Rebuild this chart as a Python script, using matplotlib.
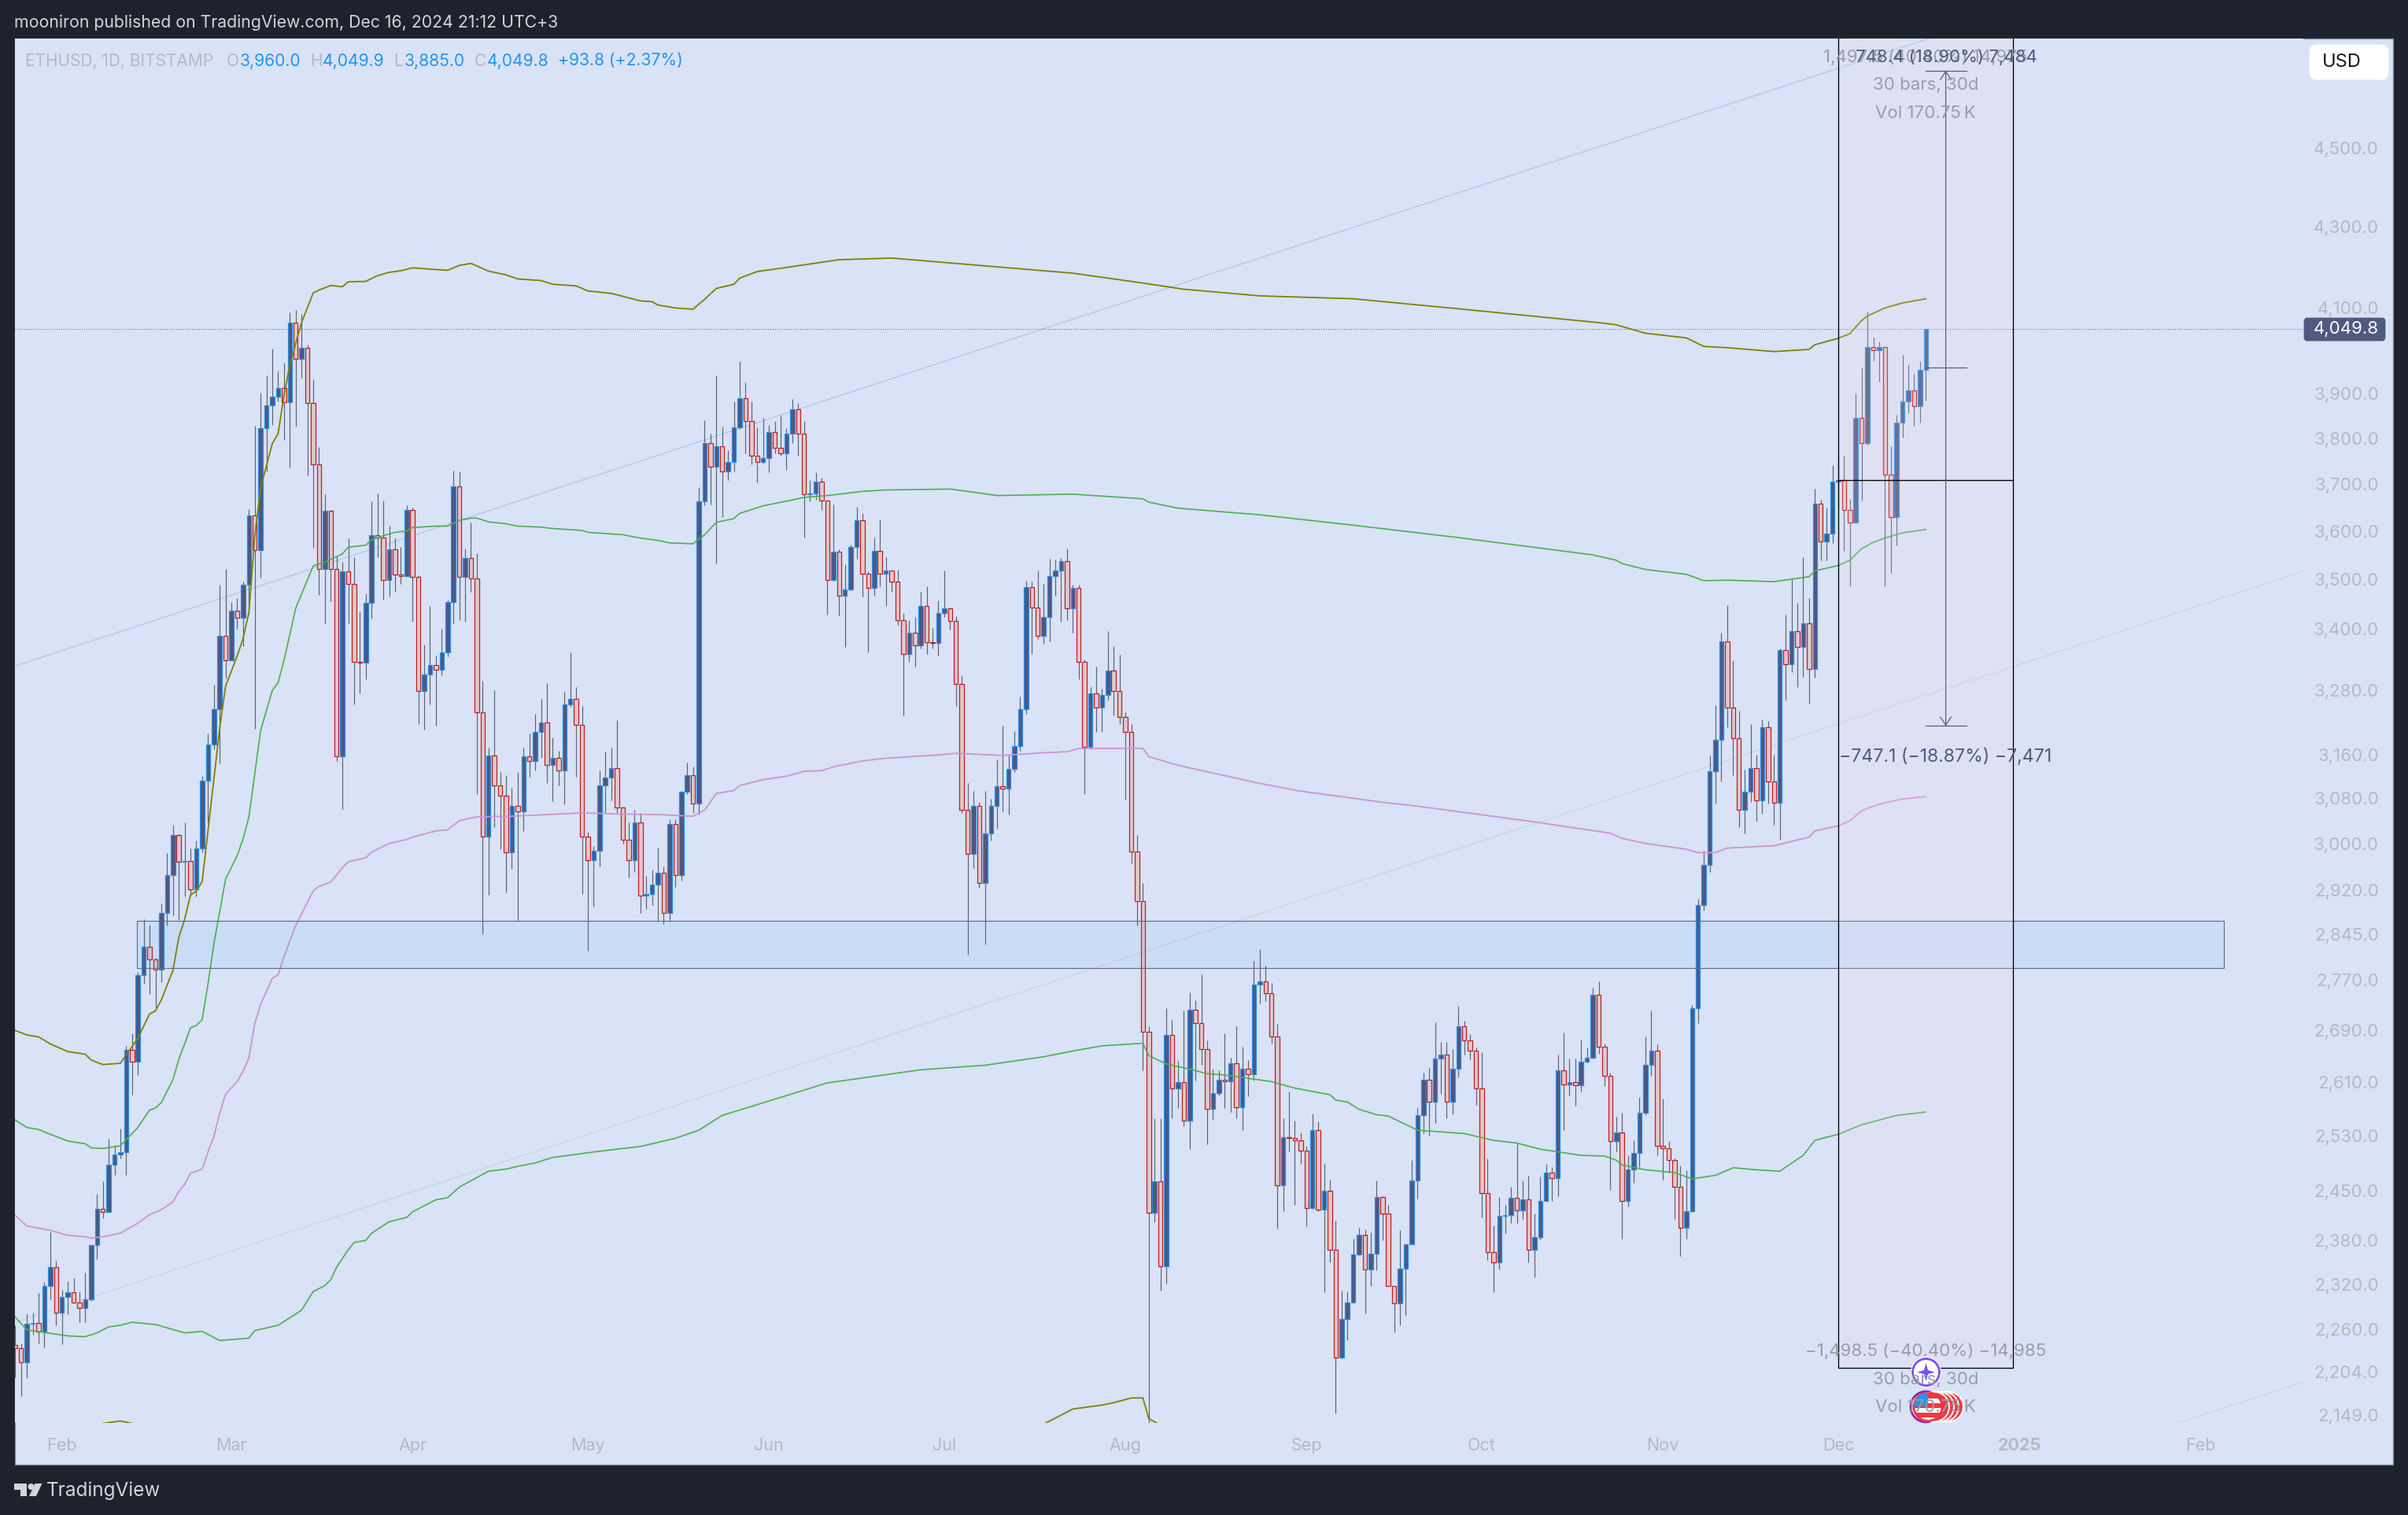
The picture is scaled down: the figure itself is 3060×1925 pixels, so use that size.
import matplotlib
matplotlib.use("Agg")
import matplotlib.pyplot as plt
from matplotlib.patches import Rectangle, Circle, Polygon, FancyBboxPatch
from matplotlib.ticker import NullLocator

plt.rcParams['font.family'] = ['Inter', 'DejaVu Sans']

# daily closes, highs, lows, first bar is Jan 24 2024, opens follow the previous close
first_open = 2239
closes = [2235,2217,2267,2268,2257,2317,2343,2282,2303,2309,
2295,2288,2299,2373,2424,2420,2487,2502,2506,2660,
2642,2778,2824,2804,2787,2881,2945,3015,2968,2969,
2921,2991,3112,3178,3245,3386,3339,3436,3422,3488,
3633,3560,3823,3874,3893,3913,3881,4065,3980,4006,
3879,3742,3521,3643,3521,3156,3516,3490,3335,3333,
3452,3591,3586,3498,3561,3510,3506,3645,3505,3279,
3311,3329,3320,3353,3454,3695,3505,3544,3502,3239,
3012,3158,3103,3085,2985,3066,3057,3157,3148,3201,
3220,3140,3154,3130,3253,3264,3215,3012,2971,2987,
3103,3117,3135,3063,3006,2971,3037,2910,2913,2929,
2949,2881,3034,2945,3092,3122,3070,3662,3790,3737,
3782,3727,3748,3824,3890,3839,3762,3747,3757,3813,
3779,3767,3811,3865,3811,3677,3680,3705,3665,3498,
3557,3467,3479,3567,3622,3511,3483,3559,3511,3517,
3495,3417,3350,3392,3368,3445,3373,3372,3431,3441,
3416,3292,3059,2982,3066,2931,3018,3066,3102,3098,
3134,3176,3245,3484,3443,3386,3424,3506,3518,3537,
3441,3483,3335,3174,3275,3247,3272,3319,3279,3230,
3201,2986,2901,2688,2419,2463,2344,2683,2600,2610,
2552,2723,2702,2661,2570,2593,2614,2611,2639,2572,
2631,2622,2763,2768,2749,2681,2458,2527,2526,2523,
2508,2425,2538,2423,2450,2367,2223,2273,2295,2360,
2388,2340,2362,2441,2417,2317,2294,2341,2375,2464,
2560,2614,2580,2646,2653,2580,2631,2696,2675,2659,
2601,2447,2364,2350,2414,2415,2440,2422,2438,2367,
2384,2435,2476,2468,2628,2607,2610,2605,2642,2647,
2747,2665,2620,2522,2534,2435,2480,2505,2564,2637,
2658,2515,2511,2494,2456,2398,2421,2725,2894,2963,
3129,3187,3376,3247,3190,3059,3092,3135,3076,3210,
3111,3072,3359,3331,3396,3364,3411,3322,3657,3578,
3594,3705,3708,3645,3618,3845,3790,4007,4000,4007,
3720,3630,3834,3882,3908,3871,3955,4049.8]
highs = [2265,2241,2281,2282,2308,2323,2392,2352,2312,2324,
2328,2310,2336,2374,2445,2463,2525,2516,2540,2666,
2686,2783,2870,2861,2806,2897,2983,3033,3016,3037,
2991,3005,3120,3199,3291,3488,3521,3454,3461,3495,
3646,3828,3902,3941,4004,3953,3971,4089,4094,4085,
4013,3933,3781,3678,3644,3548,3535,3584,3545,3434,
3471,3663,3680,3664,3611,3584,3566,3654,3649,3508,
3369,3445,3347,3400,3459,3728,3727,3563,3618,3553,
3299,3173,3280,3127,3122,3099,3127,3172,3199,3236,
3264,3294,3191,3166,3278,3354,3286,3250,3020,2996,
3130,3165,3172,3224,3065,3037,3059,3054,2944,2954,
2993,2960,3042,3042,3094,3145,3138,3693,3840,3811,
3941,3826,3773,3882,3974,3926,3882,3824,3845,3829,
3838,3851,3823,3888,3879,3838,3708,3725,3714,3664,
3656,3561,3530,3571,3651,3638,3516,3586,3625,3545,
3518,3519,3432,3417,3424,3474,3485,3401,3457,3517,
3442,3425,3310,3108,3093,3073,3093,3079,3150,3213,
3160,3203,3268,3497,3495,3517,3490,3542,3540,3544,
3563,3488,3488,3340,3286,3326,3284,3396,3366,3349,
3239,3216,3015,2932,2696,2555,2555,2725,2707,2643,
2721,2750,2738,2780,2675,2630,2628,2686,2648,2696,
2664,2644,2801,2821,2794,2765,2700,2555,2596,2552,
2534,2515,2563,2551,2490,2466,2407,2311,2310,2382,
2398,2395,2391,2465,2442,2430,2317,2394,2376,2494,
2572,2625,2632,2703,2672,2672,2661,2729,2705,2684,
2663,2656,2497,2401,2441,2430,2456,2520,2464,2471,
2418,2470,2489,2484,2653,2687,2646,2646,2676,2663,
2758,2768,2670,2625,2558,2564,2501,2523,2588,2681,
2721,2668,2585,2522,2497,2486,2479,2730,2905,2987,
3158,3252,3392,3447,3339,3241,3132,3216,3160,3225,
3222,3160,3362,3429,3500,3452,3546,3461,3690,3666,
3649,3741,3760,3762,3668,3900,3960,4092,4031,4020,
4008,3782,3852,3990,3967,3945,3974,4049.9]
lows = [2197,2173,2196,2252,2241,2236,2299,2265,2240,2280,
2294,2269,2269,2297,2354,2411,2420,2473,2496,2473,
2591,2621,2764,2748,2724,2767,2860,2877,2869,2909,
2910,2909,2984,3037,3169,3143,3303,3341,3400,3366,
3429,3208,3503,3727,3830,3882,3796,3735,3826,3936,
3718,3565,3468,3411,3455,3148,3061,3411,3253,3274,
3302,3420,3545,3458,3464,3474,3490,3506,3414,3216,
3206,3253,3213,3310,3346,3411,3417,3414,3475,3087,
2845,2912,3028,2990,2915,2956,2869,3022,3119,3130,
3154,3107,3075,3103,3069,3249,3119,2913,2818,2892,
2960,3054,3076,3054,3000,2941,2950,2881,2887,2894,
2866,2862,2866,2925,2936,3088,3054,3051,3654,3656,
3532,3630,3708,3727,3821,3767,3742,3703,3745,3725,
3767,3762,3730,3789,3762,3586,3662,3666,3645,3429,
3496,3427,3364,3477,3542,3464,3353,3466,3485,3446,
3474,3408,3233,3335,3326,3362,3350,3362,3347,3424,
3399,3250,3054,2812,2957,2923,2828,3005,3026,3057,
3051,3127,3167,3236,3350,3380,3370,3375,3466,3414,
3417,3393,3302,3088,3170,3201,3201,3261,3233,3217,
3078,2966,2860,2628,2137,2405,2311,2321,2555,2571,
2544,2510,2613,2637,2517,2553,2590,2571,2565,2555,
2538,2589,2613,2733,2736,2670,2396,2421,2507,2430,
2489,2400,2424,2421,2309,2350,2151,2222,2245,2295,
2359,2281,2317,2339,2380,2317,2256,2265,2279,2376,
2439,2533,2530,2549,2592,2555,2561,2617,2652,2645,
2576,2412,2353,2309,2340,2390,2404,2404,2410,2350,
2329,2381,2435,2435,2442,2538,2590,2575,2596,2640,
2646,2654,2604,2451,2507,2382,2427,2461,2484,2560,
2620,2501,2466,2476,2410,2358,2382,2420,2701,2885,
2950,3071,3110,3210,3122,3029,3018,3073,3040,3052,
3071,3033,3006,3261,3316,3286,3306,3255,3304,3539,
3539,3575,3650,3558,3485,3618,3665,3786,3976,3928,
3485,3512,3570,3802,3856,3827,3834,3885]

olive_up_bars = [0,2,4,6,9,12,13,15,18,21,23,24,25,27,28,29,30,31,32,34,35,36,38,39,40,41,42,44,45,46,47,49,51,52,54,56,57,60,62,64,66,68,74,76,78,81,84,86,90,92,96,98,102,107,109,110,113,116,118,120,123,124,127,132,141,150,160,181,193,200,213,229,247,271,274,279,286,289,293,301,307,308,312,314,316,317,320,323,327]
olive_up = [2690,2683,2680,2669,2657,2653,2644,2637,2639,2678,2716,2721,2738,2786,2840,2870,2911,2918,2934,3114,3208,3288,3347,3381,3433,3589,3691,3788,3810,3896,3966,4065,4136,4143,4154,4151,4163,4164,4178,4186,4190,4197,4191,4203,4208,4189,4180,4170,4166,4157,4153,4141,4135,4117,4115,4107,4100,4097,4121,4147,4157,4172,4188,4198,4217,4221,4209,4184,4160,4145,4129,4122,4098,4065,4060,4040,4029,4009,4006,3997,4002,4013,4028,4039,4070,4081,4100,4112,4122]

green_up_bars = [0,2,4,6,9,12,13,15,18,21,23,24,25,27,28,29,30,31,32,33,34,36,38,39,40,42,44,45,46,47,48,51,53,56,57,60,61,63,65,67,68,72,74,76,78,79,81,84,86,90,92,97,98,104,107,110,112,116,118,120,123,124,128,132,135,139,145,149,160,163,168,181,193,194,199,213,229,247,270,274,275,279,286,289,293,301,307,308,312,314,316,318,320,323,327]
green_up = [2553,2542,2539,2532,2522,2518,2512,2511,2515,2542,2568,2571,2579,2614,2645,2669,2694,2698,2707,2764,2829,2938,2979,3008,3047,3204,3280,3295,3338,3389,3441,3527,3535,3552,3566,3570,3581,3590,3597,3600,3607,3610,3610,3622,3627,3627,3619,3615,3610,3608,3605,3601,3597,3592,3585,3580,3575,3573,3592,3618,3626,3637,3653,3663,3671,3675,3684,3687,3689,3684,3675,3678,3668,3661,3648,3634,3612,3586,3550,3539,3532,3520,3510,3497,3498,3495,3505,3517,3528,3539,3563,3576,3585,3596,3603]

purple_bars = [0,2,4,6,9,12,13,15,18,21,23,25,27,28,29,30,31,32,33,34,35,36,38,39,40,41,42,44,45,46,48,51,52,54,56,57,60,61,64,67,68,72,74,76,79,85,91,97,103,110,116,118,120,123,124,128,132,135,138,140,145,149,158,161,169,176,180,182,193,194,199,213,220,234,240,260,273,275,279,286,288,291,293,301,307,308,312,314,316,318,320,323,327]
purple = [2415,2400,2397,2394,2387,2385,2383,2385,2390,2404,2416,2423,2434,2449,2459,2475,2478,2481,2506,2529,2563,2592,2611,2627,2647,2701,2731,2773,2779,2808,2860,2918,2926,2933,2958,2968,2975,2985,3000,3007,3011,3022,3024,3040,3047,3048,3051,3054,3052,3051,3048,3059,3089,3094,3103,3114,3120,3129,3130,3137,3148,3153,3159,3162,3158,3163,3165,3171,3171,3156,3140,3107,3093,3073,3066,3038,3018,3009,3000,2990,2984,2984,2992,2996,3011,3022,3031,3040,3058,3066,3072,3079,3083]

green_low_bars = [0,2,9,12,14,16,18,20,24,29,32,35,40,41,45,49,51,53,54,55,57,58,60,61,64,67,68,72,74,76,81,84,86,89,92,100,107,113,117,121,131,139,155,166,176,181,186,193,194,197,201,204,207,215,219,225,226,228,230,233,235,240,248,253,257,261,268,272,274,275,279,284,287,291,294,298,302,306,308,312,316,322,327]
green_low = [2276,2259,2251,2250,2255,2263,2265,2269,2266,2255,2257,2245,2248,2258,2265,2285,2310,2318,2326,2343,2367,2377,2380,2390,2406,2412,2420,2437,2440,2455,2478,2481,2485,2490,2498,2507,2514,2526,2538,2560,2587,2609,2629,2636,2649,2658,2666,2670,2651,2638,2630,2623,2621,2611,2601,2591,2583,2580,2569,2561,2559,2538,2533,2523,2519,2510,2501,2500,2494,2487,2480,2476,2467,2472,2483,2480,2478,2501,2523,2532,2546,2560,2565]

olive_low_bars = [0,1,13,15,18,20,22,30,170,176,181,186,188,191,193,194,196,200]
olive_low = [2139,2130,2132,2139,2142,2139,2132,2110,2110,2138,2157,2162,2165,2171,2171,2145,2137,2120]

price_ticks = [4500,4300,4100,3900,3800,3700,3600,3500,3400,3280,3160,3080,3000,2920,2845,2770,2690,2610,2530,2450,2380,2320,2260,2204,2149]
month_bars = [8,37,68,98,129,159,190,221,251,282,312,343,374]
month_labels = ['Feb','Mar','Apr','May','Jun','Jul','Aug','Sep','Oct','Nov','Dec','2025','Feb']

last_price = 4049.8
zone_low, zone_high = 2790, 2868
long_entry, long_target, long_stop = 3708, 5206, 2209.5
measure_open, measure_up, measure_down = 3960, 4708.4, 3212.9

dark = '#1e222d'
panel = '#d9e2f7'
grey_text = '#b6b9c1'
meas_col = '#50597f'

fig = plt.figure(figsize=(30.6, 19.25), dpi=100, facecolor=dark)
W, H = 3060.0, 1925.0

# price pane sits between these pixels
L, R, T, B = 19.0, 2927.0, 49.0, 1808.0
ax = fig.add_axes([L/W, 1-B/H, (R-L)/W, (B-T)/H], facecolor=panel, zorder=2)
ax.set_yscale('log')
ax.set_xlim(-0.04, 391.6)
ax.set_ylim(2139.6, 4797.6)
for s in ax.spines.values():
    s.set_visible(False)

n = len(closes)
bars = list(range(n))
opens = [first_open] + closes[:-1]
up = [c >= o for o, c in zip(opens, closes)]

ax.vlines(bars, lows, highs, colors='#5c6270', linewidth=0.85, zorder=2)
for i in range(n):
    top, bot = max(opens[i], closes[i]), min(opens[i], closes[i])
    if up[i]:
        ax.bar(i, top-bot, bottom=bot, width=0.74, color='#4c5785', edgecolor='#2a8fe6', linewidth=0.9, zorder=3)
    else:
        ax.bar(i, top-bot, bottom=bot, width=0.74, color='#e3c8ca', edgecolor='#bb1f24', linewidth=0.9, zorder=3)

ax.plot(olive_up_bars, olive_up, color='#808000', lw=1.3, zorder=4)
ax.plot(olive_low_bars, olive_low, color='#808000', lw=1.3, zorder=4)
ax.plot(green_up_bars, green_up, color='#4caf50', lw=1.2, zorder=4)
ax.plot(green_low_bars, green_low, color='#4caf50', lw=1.2, zorder=4)
ax.plot(purple_bars, purple, color='#ce93d8', lw=1.3, zorder=4)

# channel lines
ax.plot([-0.04, 327.5], [3327, 4797.6], color='#9dc1f5', lw=0.7, zorder=1.5)
ax.plot([-0.04, 391.6], [2269, 3516], color='#cbd0dc', lw=0.7, zorder=1.5)
ax.plot([369, 391.6], [2137, 2191], color='#cbd0dc', lw=0.7, zorder=1.5)

# current price line
ax.axhline(last_price, color='#4f5878', lw=0.7, ls=(0, (1, 2)), zorder=1.8)

# support zone
ax.add_patch(Rectangle((20.8, zone_low), 378-20.8, zone_high-zone_low, facecolor=(33/255, 150/255, 243/255, 0.08),
                       edgecolor='#5f6a80', lw=0.8, zorder=5))

# long position box
ax.add_patch(Rectangle((312, long_stop), 29.9, long_target-long_stop, facecolor=(248/255, 222/255, 235/255, 0.18),
                       edgecolor='black', lw=0.95, zorder=6))
ax.plot([312, 341.9], [long_entry, long_entry], color='black', lw=0.95, zorder=6)

# measure tool
for p in (measure_up, measure_open, measure_down):
    ax.plot([327, 334], [p, p], color=meas_col, lw=0.85, zorder=7)
for p in (measure_up, measure_down):
    ax.annotate('', xy=(330.4, p), xytext=(330.4, measure_open), zorder=7,
                arrowprops=dict(arrowstyle='->,head_length=0.75,head_width=0.5', color=meas_col, lw=0.85,
                                shrinkA=0, shrinkB=0))

ax.set_xticks(month_bars)
ax.set_xticklabels(month_labels)
ax.set_yticks(price_ticks)
ax.set_yticklabels([f'{v:,.1f}' for v in price_ticks])
ax.yaxis.set_minor_locator(NullLocator())
ax.yaxis.tick_right()
ax.tick_params(axis='y', length=0, pad=69, labelsize=16, labelcolor=grey_text)
ax.tick_params(axis='x', length=0, pad=14, labelsize=15.5, labelcolor=grey_text)
plt.setp(ax.yaxis.get_majorticklabels(), ha='right')
ax.get_xticklabels()[11].set_fontweight('bold')

# screenshot chrome, in pixels of the picture
bg = fig.add_axes([0, 0, 1, 1], zorder=1)
bg.set_xlim(0, W)
bg.set_ylim(H, 0)
bg.axis('off')
bg.add_patch(Rectangle((L, T), 3041-L, 1861-T, facecolor=panel, edgecolor='#7f8798', lw=0.9))

ov = fig.add_axes([0, 0, 1, 1], zorder=5)
ov.patch.set_alpha(0)
ov.set_xlim(0, W)
ov.set_ylim(H, 0)
ov.axis('off')

ov.text(18, 29, 'mooniron published on TradingView.com, Dec 16, 2024 21:12 UTC+3', color='#d1d4dc', fontsize=15.3,
        va='center', ha='left')
ov.text(32.5, 77.5, 'ETHUSD, 1D, BITSTAMP', color=grey_text, fontsize=15, va='center')
for x, s in [(288, 'O'), (394, 'H'), (500.5, 'L'), (603, 'C')]:
    ov.text(x, 77.5, s, color=grey_text, fontsize=15, va='center')
for x, s in [(305, '3,960.0'), (410, '4,049.9'), (514, '3,885.0'), (619, '4,049.8'), (709, '+93.8 (+2.37%)')]:
    ov.text(x, 77.5, s, color='#2196f3', fontsize=15.2, va='center')

ov.add_patch(FancyBboxPatch((2938, 60), 94, 38, boxstyle='round,pad=0,rounding_size=6', mutation_aspect=1,
                            facecolor='white', edgecolor='white', lw=5))
ov.text(2951, 79, 'USD', color='#131722', fontsize=17, va='center')

ov.add_patch(FancyBboxPatch((2929, 405), 101, 27, boxstyle='round,pad=0,rounding_size=3',
                            facecolor=meas_col, edgecolor=meas_col, lw=2))
ov.text(3023, 418, '4,049.8', color='white', fontsize=16, va='center', ha='right')

txt_grey = '#9a9da8'
ov.text(2447, 72.5, '1,497.5 (40.40%) 14,975', color=txt_grey, fontsize=16, va='center', ha='center')
ov.text(2473, 72.5, '748.4 (18.90%) 7,484', color=meas_col, fontsize=16, va='center', ha='center')
ov.text(2447, 108, '30 bars, 30d', color=txt_grey, fontsize=16, va='center', ha='center')
ov.text(2447, 144, 'Vol 170.75\u2009K', color=txt_grey, fontsize=16, va='center', ha='center')
ov.text(2472, 962, '\u2212747.1 (\u221218.87%) \u22127,471', color=meas_col, fontsize=16.6, va='center', ha='center')
ov.text(2447, 1717, '\u22121,498.5 (\u221240.40%) \u221214,985', color=txt_grey, fontsize=16, va='center', ha='center')
ov.text(2447, 1753, '30 bars, 30d', color=txt_grey, fontsize=16, va='center', ha='center')
ov.text(2447, 1788, 'Vol 170.75\u2009K', color=txt_grey, fontsize=16, va='center', ha='center')

# event icons under the last bar
ov.add_patch(Circle((2447.5, 1743.5), 19.5, facecolor='white', edgecolor='none'))
ov.add_patch(Circle((2447.5, 1743.5), 17, facecolor='white', edgecolor='#7a4dff', lw=2))
ov.add_patch(Polygon([(2447.5, 1732), (2450, 1741), (2459, 1743.5), (2450, 1746), (2447.5, 1755), (2445, 1746), (2436, 1743.5), (2445, 1741)],
                     facecolor='#7a4dff', edgecolor='none'))
ov.add_patch(Circle((2447.5, 1787.5), 19.5, facecolor='white', edgecolor='#8e24aa', lw=2))
for cx in (2476, 2470, 2464, 2458):
    ov.add_patch(Circle((cx, 1787.5), 19, facecolor='#f23645', edgecolor='white', lw=1.5))
flag = Circle((2450, 1787.5), 18, facecolor='white', edgecolor='#f23645', lw=2)
ov.add_patch(flag)
for y0 in (1771, 1783, 1795):
    r = Rectangle((2430, y0), 40, 6, facecolor='#f23645', edgecolor='none')
    ov.add_patch(r)
    r.set_clip_path(flag)
c = Rectangle((2430, 1768), 20, 19, facecolor='#2196f3', edgecolor='none')
ov.add_patch(c)
c.set_clip_path(flag)

# TradingView mark
ov.add_patch(Polygon([(18, 1885), (34, 1885), (34, 1901), (26, 1901), (26, 1893), (18, 1893)], facecolor='#d1d4dc', edgecolor='none'))
ov.add_patch(Circle((39.5, 1889), 4, facecolor='#d1d4dc', edgecolor='none'))
ov.add_patch(Polygon([(53.5, 1885), (46, 1901), (37, 1901), (44.5, 1885)], facecolor='#d1d4dc', edgecolor='none'))
ov.text(59, 1894, 'TradingView', color='#d1d4dc', fontsize=17.5, va='center', ha='left')

fig.savefig('out.png', dpi=100, facecolor=dark)
